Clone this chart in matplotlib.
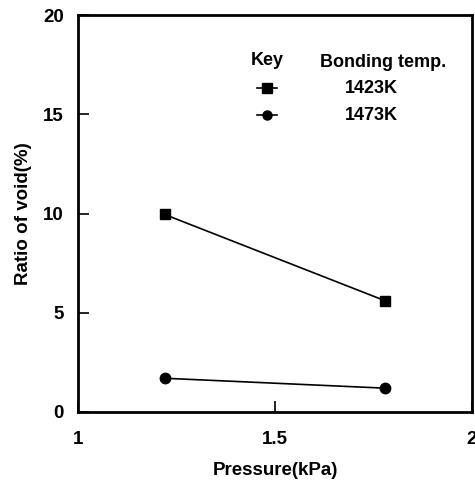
import matplotlib.pyplot as plt

pressure = [1.22, 1.78]
void_1423 = [9.95, 5.6]
void_1473 = [1.7, 1.2]
labels = ['1423K', '1473K']

plt.rcParams['font.family'] = ['Liberation Sans', 'DejaVu Sans']
plt.rcParams['font.weight'] = 'bold'

fig = plt.figure(figsize=(4.75, 4.96), dpi=100)
ax = fig.add_axes([78 / 475, 84 / 496, 394 / 475, 397 / 496])

ax.plot(pressure, void_1423, color='black', lw=1.2, marker='s', ms=7.5)
ax.plot(pressure, void_1473, color='black', lw=1.2, marker='o', ms=7.5)

ax.set_xlim(1, 2)
ax.set_ylim(0, 20)
ax.set_xticks([1, 1.5, 2])
ax.set_xticklabels(['1', '1.5', '2'])
ax.set_yticks([0, 5, 10, 15, 20])
ax.tick_params(direction='in', length=8, width=1.2, labelsize=13.5)
ax.tick_params(axis='x', pad=14)
ax.tick_params(axis='y', pad=10)
for lab in ax.get_xticklabels() + ax.get_yticklabels():
    lab.set_fontweight('bold')
for s in ax.spines.values():
    s.set_linewidth(2)

ax.set_xlabel('Pressure(kPa)', fontsize=13.5, fontweight='bold', labelpad=10)
ax.set_ylabel('Ratio of void(%)', fontsize=13.5, fontweight='bold', labelpad=8)

# key block
ax.text(0.48, 0.885, 'Key', transform=ax.transAxes, ha='center', va='center',
        fontsize=13, fontweight='bold')
ax.text(0.775, 0.88, 'Bonding temp.', transform=ax.transAxes, ha='center',
        va='center', fontsize=13, fontweight='bold')
for i, (m, lab) in enumerate(zip(['s', 'o'], labels)):
    yk = 0.815 - i * 0.068
    ax.plot([0.455, 0.505], [yk, yk], transform=ax.transAxes,
            color='black', lw=1.2)
    ax.plot([0.48], [yk], transform=ax.transAxes, color='black', marker=m, ms=6.5)
    ax.text(0.745, yk, lab, transform=ax.transAxes, ha='center', va='center',
            fontsize=13, fontweight='bold')

fig.savefig('out.png', dpi=100)
